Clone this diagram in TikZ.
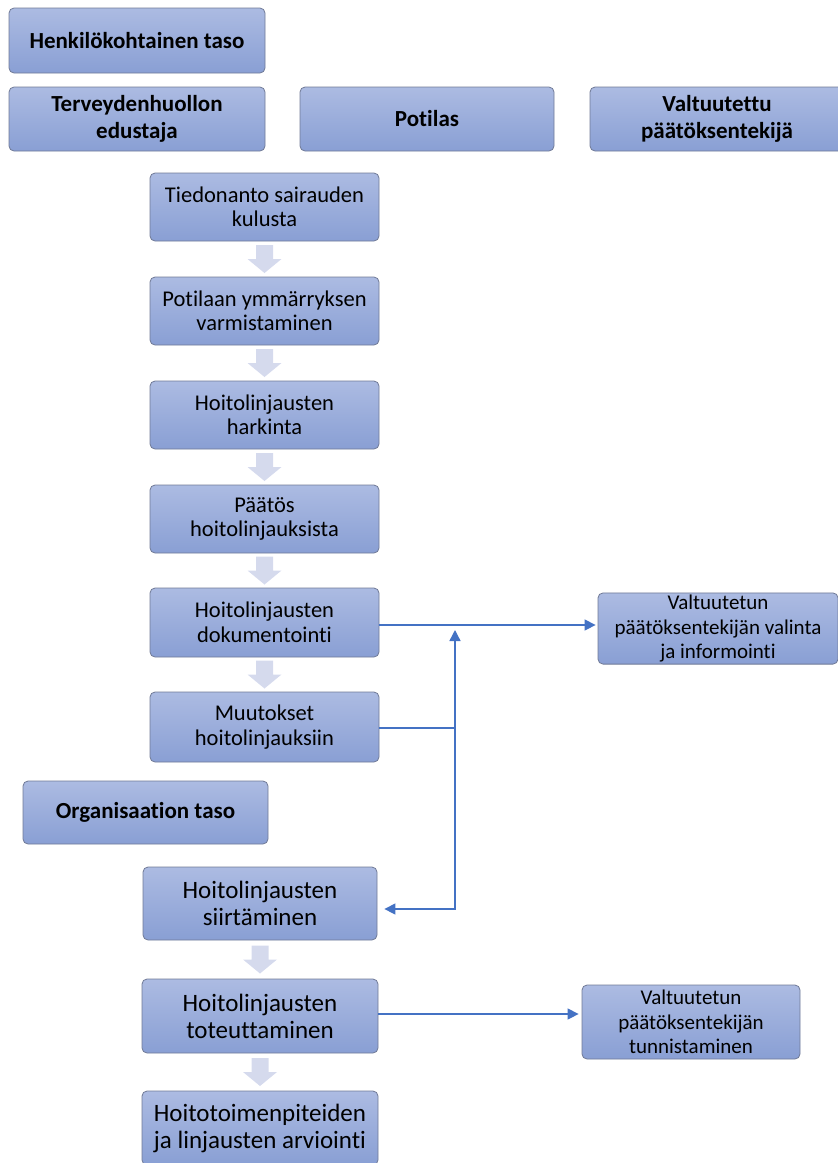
\documentclass[tikz,border=0pt]{standalone}
\usepackage{fontspec}
\setmainfont[Ligatures=NoCommon]{Carlito}
\usetikzlibrary{arrows.meta,calc}
\definecolor{boxtop}{RGB}{172,187,226}
\definecolor{boxbot}{RGB}{137,159,212}
\definecolor{boxline}{RGB}{112,122,150}
\definecolor{arrfill}{RGB}{213,218,237}
\definecolor{linkblue}{RGB}{68,114,196}
\tikzset{
  box/.style={draw=boxline, line width=0.8pt, rounded corners=5pt, top color=boxtop, bottom color=boxbot,
    align=center, inner sep=2pt, text=black, font=\fontsize{22.5}{24.5}\selectfont},
  hdr/.style={box, font=\bfseries\fontsize{23}{26.5}\selectfont},
  bigbox/.style={box, font=\fontsize{25}{27}\selectfont},
  sidebox/.style={box, font=\fontsize{21}{24.5}\selectfont},
  link/.style={draw=linkblue, line width=1.4pt, -{Triangle[length=11pt,width=11pt]}},
  plainlink/.style={draw=linkblue, line width=1.4pt}
}
\newcommand\blockarrow[2]{%
  \path (#1.south) -- (#2.north) coordinate[midway] (m);
  \fill[arrfill] ($(m)+(-8.5,-14)$) -- ($(m)+(8.5,-14)$) -- ($(m)+(8.5,0)$) -- ($(m)+(17,0)$)
    -- ($(m)+(0,14)$) -- ($(m)+(-17,0)$) -- ($(m)+(-8.5,0)$) -- cycle;}
\begin{document}
\begin{tikzpicture}[x=1pt,y=-1pt]
\useasboundingbox (0,0) rectangle (838,1163);
% headers
\node[hdr, minimum width=256, minimum height=65] (h1) at (137,40.5) {Henkilökohtainen taso};
\node[hdr, minimum width=256, minimum height=64] (t1) at (137,119) {Terveydenhuollon\\edustaja};
\node[hdr, minimum width=254, minimum height=64] (p1) at (427,119) {Potilas};
\node[hdr, minimum width=254, minimum height=64] (v1) at (717,119) {Valtuutettu\\päätöksentekijä};
% main column
\node[box, minimum width=229, minimum height=68] (s1) at (264.5,207) {Tiedonanto sairauden\\kulusta};
\node[box, minimum width=229, minimum height=68] (s2) at (264.5,311) {Potilaan ymmärryksen\\varmistaminen};
\node[box, minimum width=229, minimum height=68] (s3) at (264.5,415) {Hoitolinjausten\\harkinta};
\node[box, minimum width=229, minimum height=68] (s4) at (264.5,519) {Päätös\\hoitolinjauksista};
\node[box, minimum width=229, minimum height=69] (s5) at (264.5,622.5) {Hoitolinjausten\\dokumentointi};
\node[box, minimum width=229, minimum height=70] (s6) at (264.5,727) {Muutokset\\hoitolinjauksiin};
\node[hdr, minimum width=245, minimum height=63] (org) at (145.5,812.5) {Organisaation taso};
\node[bigbox, minimum width=234, minimum height=73] (s7) at (260,903.5) {Hoitolinjausten\\siirtäminen};
\node[bigbox, minimum width=236, minimum height=74] (s8) at (260,1016) {Hoitolinjausten\\toteuttaminen};
\node[bigbox, minimum width=236, minimum height=74] (s9) at (260,1128) {Hoitotoimenpiteiden\\ja linjausten arviointi};
% right boxes
\node[sidebox, minimum width=240, minimum height=71] (r1) at (718,628.5) {Valtuutetun\\päätöksentekijän valinta\\ja informointi};
\node[sidebox, minimum width=218, minimum height=74] (r2) at (691,1022) {Valtuutetun\\päätöksentekijän\\tunnistaminen};
% block arrows
\blockarrow{s1}{s2}
\blockarrow{s2}{s3}
\blockarrow{s3}{s4}
\blockarrow{s4}{s5}
\blockarrow{s5}{s6}
\blockarrow{s7}{s8}
\blockarrow{s8}{s9}
% connectors
\coordinate (a1) at ($(s5.east)+(0,2.5)$);
\draw[link, shorten >=2pt] (a1) -- (a1 -| r1.west);
\coordinate (j) at (455,728);
\coordinate (jt) at (455,630);
\coordinate (jb) at (455,909);
\draw[plainlink] (s6.east |- j) -- (j);
\draw[link] (j) -- (jt);
\draw[link, shorten >=7pt] (j) -- (jb) -- (jb -| s7.east);
\coordinate (a2) at ($(s8.east)+(0,-2)$);
\draw[link, shorten >=3pt] (a2) -- (a2 -| r2.west);
\end{tikzpicture}
\end{document}
